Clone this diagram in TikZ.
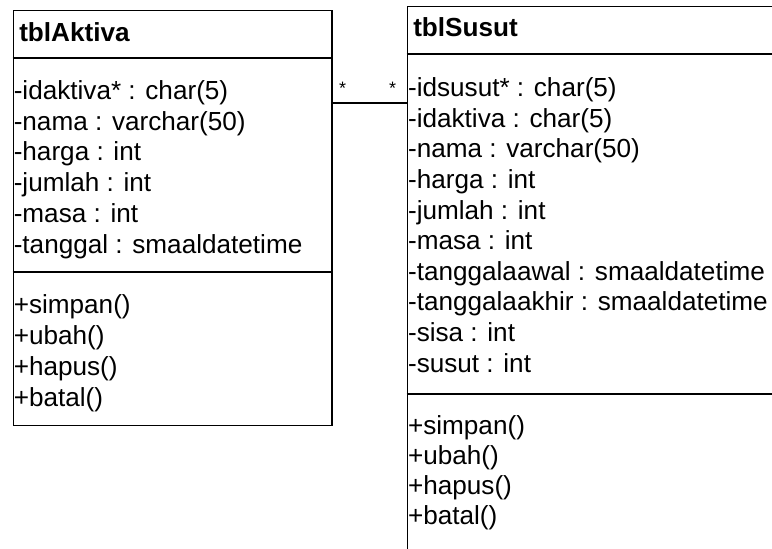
\documentclass[tikz,border=0pt]{standalone}
\usepackage{fontspec}
\setmainfont{Liberation Sans}
\usetikzlibrary{positioning}

\tikzset{
  classbox/.style={draw, line width=1.1pt, inner sep=0pt, anchor=north west},
  classsep/.style={line width=1.1pt},
  member/.style={anchor=base west, inner sep=0pt, font=\fontsize{19.6}{23}\selectfont},
  classname/.style={member, font=\fontsize{19.6}{23}\selectfont\bfseries},
  assoc/.style={line width=0.9pt},
  mult/.style={anchor=base, inner sep=0pt, font=\fontsize{13.5}{16}\selectfont},
}

\begin{document}
\begin{tikzpicture}[x=0.75pt,y=-0.75pt]
\clip (0,0) rectangle (772,549);
% kelas tblAktiva
\node[classbox, minimum width=239pt, minimum height=311.25pt] (aktiva) at (12.7,10) {};
\draw[classsep] (aktiva.west |- 0,58) -- (aktiva.east |- 0,58);
\draw[classsep] (aktiva.west |- 0,272) -- (aktiva.east |- 0,272);
\node[classname] (aktiva-name) at (19,41.7) {tblAktiva};
\foreach \t [count=\i from 0] in {-idaktiva* : char(5), -nama : varchar(50), -harga : int,
    -jumlah : int, -masa : int, -tanggal : smaaldatetime}
  \node[member] (aktiva-a\i) at (13.5,99.3+30.8*\i) {\t};
\foreach \t [count=\i from 0] in {+simpan(), +ubah(), +hapus(), +batal()}
  \node[member] (aktiva-m\i) at (13.5,314+30.7*\i) {\t};
% kelas tblSusut (terpotong di kanan dan bawah)
\node[classbox, minimum width=295pt, minimum height=430.5pt] (susut) at (406.7,6) {};
\draw[classsep] (susut.west |- 0,54) -- (susut.east |- 0,54);
\draw[classsep] (susut.west |- 0,394) -- (susut.east |- 0,394);
\node[classname] (susut-name) at (413,37) {tblSusut};
\foreach \t [count=\i from 0] in {-idsusut* : char(5), -idaktiva : char(5), -nama : varchar(50),
    -harga : int, -jumlah : int, -masa : int, -tanggalaawal : smaaldatetime,
    -tanggalaakhir : smaaldatetime, -sisa : int, -susut : int}
  \node[member] (susut-a\i) at (407.8,96.7+30.6*\i) {\t};
\foreach \t [count=\i from 0] in {+simpan(), +ubah(), +hapus(), +batal()}
  \node[member] (susut-m\i) at (407.8,434+30*\i) {\t};
% relasi
\draw[assoc] (aktiva.east |- 0,103) -- (susut.west |- 0,103);
\node[mult] (mult-a) at (342.7,95) {*};
\node[mult] (mult-s) at (392.7,95) {*};
\end{tikzpicture}
\end{document}
